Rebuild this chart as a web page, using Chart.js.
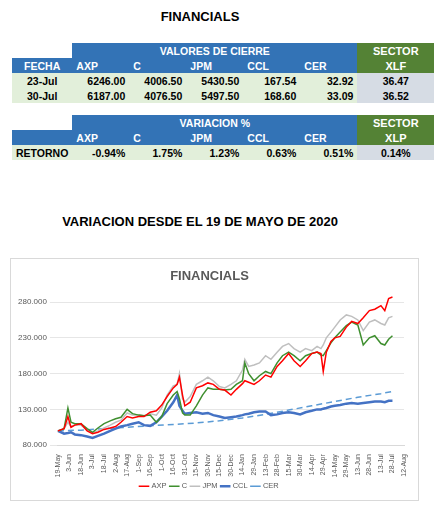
<!DOCTYPE html>
<html>
<head>
<meta charset="utf-8">
<script src="https://cdn.jsdelivr.net/npm/chart.js@4.4.0/dist/chart.umd.min.js"></script>
<style>
  body { margin: 0; background: #fff; font-family: "Liberation Sans", Arial, sans-serif; }
  .title { position: absolute; left: 0; width: 400px; text-align: center; font-weight: bold; font-size: 13px; color: #000; }
  table { position: absolute; left: 12px; border-collapse: collapse; font-weight: bold; font-size: 10.5px; }
  td { height: 15px; padding: 0 4px; white-space: nowrap; }
  .b { background: #3373b6; color: #fff; }
  .g { background: #548235; color: #fff; text-align: center; font-size: 11px; }
  .d { background: #e2efda; text-align: right; }
  .s { background: #d6dce4; text-align: center; }
  .c { text-align: center; }
  #box { position: absolute; left: 10px; top: 258px; width: 407px; height: 241px; border: 1px solid #d9d9d9; }
</style>
</head>
<body>
<div class="title" style="top:9px">FINANCIALS</div>
<table style="top:43px">
  <colgroup><col style="width:57px"><col style="width:57px"><col style="width:57px"><col style="width:57px"><col style="width:57px"><col style="width:57px"><col style="width:77px"></colgroup>
  <tr><td></td><td class="b c" colspan="5">VALORES DE CIERRE</td><td class="g">SECTOR</td></tr>
  <tr><td class="b c">FECHA</td><td class="b">AXP</td><td class="b">C</td><td class="b">JPM</td><td class="b">CCL</td><td class="b">CER</td><td class="g">XLF</td></tr>
  <tr><td class="d c">23-Jul</td><td class="d">6246.00</td><td class="d">4006.50</td><td class="d">5430.50</td><td class="d">167.54</td><td class="d">32.92</td><td class="s">36.47</td></tr>
  <tr><td class="d c">30-Jul</td><td class="d">6187.00</td><td class="d">4076.50</td><td class="d">5497.50</td><td class="d">168.60</td><td class="d">33.09</td><td class="s">36.52</td></tr>
  <tr><td style="height:12px"></td></tr>
  <tr><td></td><td class="b c" colspan="5">VARIACION %</td><td class="g">SECTOR</td></tr>
  <tr><td class="b"></td><td class="b">AXP</td><td class="b">C</td><td class="b">JPM</td><td class="b">CCL</td><td class="b">CER</td><td class="g">XLP</td></tr>
  <tr><td class="d c">RETORNO</td><td class="d">-0.94%</td><td class="d">1.75%</td><td class="d">1.23%</td><td class="d">0.63%</td><td class="d">0.51%</td><td class="s">0.14%</td></tr>
</table>
<div class="title" style="top:214px">VARIACION DESDE EL 19 DE MAYO DE 2020</div>
<div id="box"><canvas id="myChart"></canvas></div>
<script>
"use strict";

// days since 19-May-2020
let days = [0, 8, 13, 17, 22, 30, 38, 45, 52, 60, 68, 75, 82, 90, 97, 105, 112, 120, 128, 135, 142, 150, 155, 158, 162, 165, 172, 180, 188, 195, 202, 210, 217, 225, 232, 240, 243, 248, 255, 262, 270, 277, 285, 292, 300, 307, 315, 322, 330, 337, 342, 345, 349, 355, 360, 367, 375, 382, 390, 397, 405, 412, 420, 425, 430, 435];
let axp = [100, 103, 120, 105, 108, 110, 100, 96, 98, 102, 104, 106, 112, 120, 118, 120, 120, 126, 128, 136, 148, 160, 165, 175, 150, 135, 140, 160, 163, 167, 165, 158, 157, 150, 158, 166, 170, 168, 165, 170, 178, 175, 190, 198, 208, 198, 190, 198, 208, 210, 208, 183, 210, 225, 230, 232, 245, 253, 250, 258, 268, 270, 275, 268, 285, 287];
let citi = [100, 103, 132, 112, 110, 110, 103, 98, 104, 110, 114, 117, 119, 130, 124, 122, 121, 122, 112, 120, 138, 150, 155, 145, 125, 122, 122, 135, 150, 160, 158, 158, 157, 158, 165, 170, 195, 180, 170, 177, 183, 180, 195, 205, 210, 205, 198, 205, 208, 210, 206, 205, 212, 223, 230, 238, 247, 252, 248, 220, 230, 233, 222, 220, 228, 233];
let jpm = [100, 103, 112, 106, 108, 108, 101, 97, 100, 104, 108, 112, 115, 125, 122, 122, 121, 124, 122, 132, 150, 163, 165, 180, 145, 140, 148, 165, 170, 175, 170, 162, 160, 165, 170, 185, 200, 190, 192, 195, 205, 200, 210, 218, 222, 215, 210, 215, 212, 218, 215, 220, 230, 238, 245, 255, 262, 260, 255, 240, 252, 255, 250, 248, 258, 260];
let ccl = [100, 96, 97, 98, 95, 94, 92, 90, 93, 96, 100, 103, 106, 108, 110, 112, 108, 107, 112, 120, 128, 140, 150, 135, 128, 124, 125, 126, 124, 125, 122, 120, 118, 119, 120, 122, 123, 124, 126, 127, 127, 122, 123, 125, 126, 125, 123, 126, 128, 130, 130, 131, 132, 134, 135, 136, 138, 139, 138, 139, 140, 141, 141, 140, 142, 142];
let cerDays = [0, 30, 60, 90, 120, 150, 180, 210, 240, 270, 300, 330, 360, 390, 420, 435];
let cer = [100, 101, 103, 105, 107, 109, 111, 114, 118, 123, 129, 135, 141, 147, 152, 155];
let yTicks = [80, 130, 180, 230, 280];

function pts(xs, ys) {
  return xs.map((x, i) => ({ x: x, y: ys[i] }));
}

let months = ['Jan','Feb','Mar','Apr','May','Jun','Jul','Aug','Sep','Oct','Nov','Dec'];
function dayLabel(d) {
  let dt = new Date(Date.UTC(2020, 4, 19 + d));
  return dt.getUTCDate() + '-' + months[dt.getUTCMonth()];
}

function line(label, data, color, width, dash) {
  return { label: label, data: data, borderColor: color, backgroundColor: color, borderWidth: width,
    borderDash: dash || [], pointRadius: 0, tension: 0, clip: false };
}

let chartObject = {
  type: 'line',
  data: {
    datasets: [
      line('AXP', pts(days, axp), '#ff0000', 1.5),
      line('C', pts(days, citi), '#3f8f2f', 1.5),
      line('JPM', pts(days, jpm), '#bfbfbf', 1.5),
      line('CCL', pts(days, ccl), '#4472c4', 2.5),
      line('CER', pts(cerDays, cer), '#5b9bd5', 1.5, [6, 4])
    ]
  },
  options: {
    responsive: true,
    maintainAspectRatio: false,
    animation: false,
    layout: { padding: { left: 4, right: 14, top: 2, bottom: 0 } },
    plugins: {
      title: { display: true, text: 'FINANCIALS', color: '#595959', font: { family: 'Liberation Sans', size: 13, weight: 'bold' }, padding: { top: 8, bottom: 6 } },
      legend: {
        position: 'bottom',
        labels: { usePointStyle: true, pointStyle: 'line', boxWidth: 28, padding: 4, color: '#595959', font: { size: 7.5 } }
      }
    },
    scales: {
      x: {
        type: 'linear', min: 0, max: 450,
        afterBuildTicks: axis => { let t = []; for (let d = 0; d <= 450; d += 15) t.push({ value: d }); axis.ticks = t; },
        grid: { display: false },
        border: { color: '#d9d9d9' },
        ticks: { callback: v => dayLabel(v), maxRotation: 90, minRotation: 90, padding: 1, color: '#595959', font: { size: 7 }, autoSkip: false }
      },
      y: {
        min: 80, max: 296,
        afterBuildTicks: axis => { axis.ticks = yTicks.map(v => ({ value: v })); },
        grid: { color: '#e6e6e6' },
        border: { display: false },
        ticks: { callback: v => v + '.000', color: '#595959', font: { size: 8 } }
      }
    }
  }
};

let ctx = document.getElementById('myChart').getContext('2d');
let myChart = new Chart(ctx, chartObject);
</script>
</body>
</html>
